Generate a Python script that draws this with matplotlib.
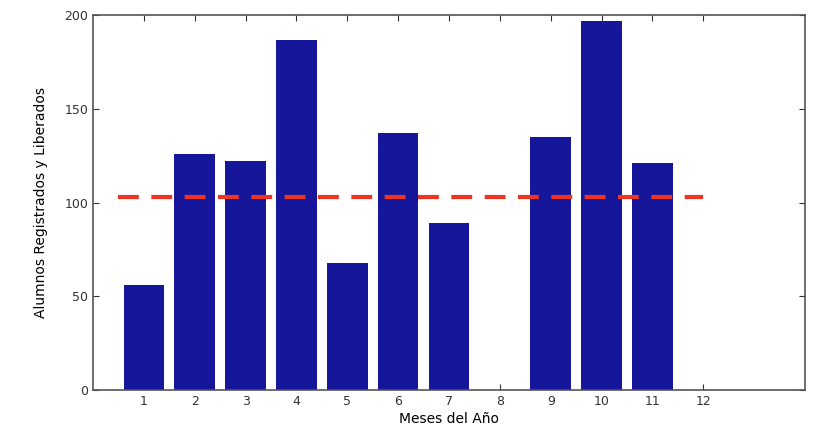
import matplotlib
matplotlib.use('Agg')
import matplotlib.pyplot as plt
import numpy as np

# datos por mes
meses = [1, 2, 3, 4, 5, 6, 7, 8, 9, 10, 11, 12]
alumnos = [56, 126, 122, 187, 68, 137, 89, 0, 135, 197, 121, 0]
promedio = np.mean(alumnos)

fig = plt.figure(figsize=(8.26, 4.42), dpi=100)
ax = fig.add_axes([0.1126, 0.1176, 0.862, 0.848])

ax.bar(meses, alumnos, width=0.8, color='#16169a', zorder=2)
ax.plot([0.5, 12], [promedio, promedio], '--', color='#ee3322', linewidth=3, dashes=(5, 3), zorder=3)

ax.set_xlim(0, 14)
ax.set_ylim(0, 200)
ax.set_xticks(meses)
ax.set_yticks([0, 50, 100, 150, 200])
ax.tick_params(direction='in', top=True, right=True, length=4, labelsize=9, colors='#333333')
for s in ax.spines.values():
    s.set_color('#555555')
    s.set_linewidth(1.2)

ax.set_xlabel('Meses del Año', fontsize=10, labelpad=3)
ax.set_ylabel('Alumnos Registrados y Liberados', fontsize=10, labelpad=12)

fig.savefig('out.png', dpi=100)
